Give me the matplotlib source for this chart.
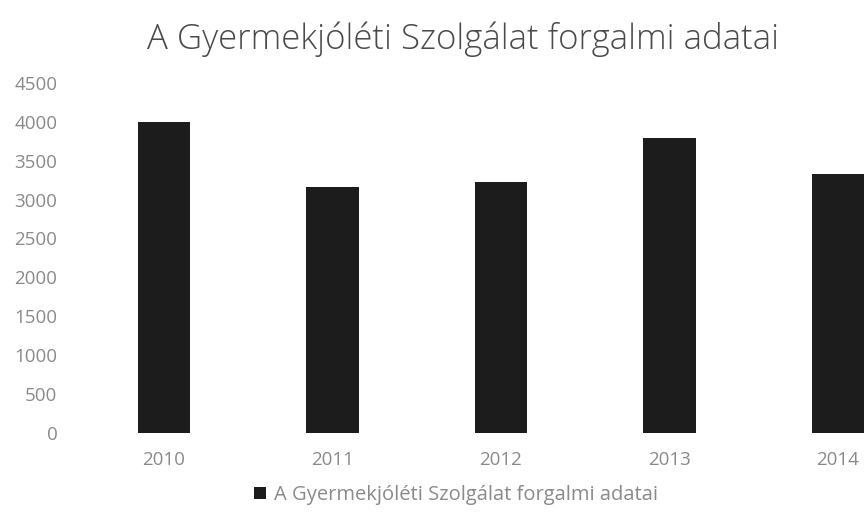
import matplotlib
matplotlib.use('Agg')
import matplotlib.pyplot as plt

years = ['2010', '2011', '2012', '2013', '2014']
values = [4000, 3160, 3230, 3790, 3330]
series_name = 'A Gyermekjóléti Szolgálat forgalmi adatai'
yticks = list(range(0, 5000, 500))

plt.rcParams['font.family'] = ['Open Sans', 'DejaVu Sans']

fig = plt.figure(figsize=(8.66, 5.28), dpi=100)
# plot area runs past the right edge, like the cropped original
ax = fig.add_axes([0.092, 0.180, 0.973, 0.663])

ax.bar(range(len(years)), values, width=0.31, color='#1c1c1c', label=series_name)
ax.set_xlim(-0.5, len(years) - 0.5)
ax.set_ylim(0, 4500)
ax.set_yticks(yticks)
ax.set_xticks(range(len(years)))
ax.set_xticklabels(years)
ax.tick_params(length=0, labelsize=13.5, colors='#8a8a8a', pad=13)
ax.tick_params(axis='y', pad=16)
for s in ax.spines.values():
    s.set_visible(False)

fig.text(463 / 866, 1 - 39 / 528, series_name, ha='center', va='center',
         fontsize=25, color='#4a4a4a', fontweight='light')
fig.legend(loc='center', bbox_to_anchor=(456 / 866, 1 - 495 / 528), frameon=False,
           fontsize=14.5, labelcolor='#8a8a8a', handlelength=0.55, handleheight=0.55,
           handletextpad=0.4)

fig.savefig('out.png', dpi=100)
